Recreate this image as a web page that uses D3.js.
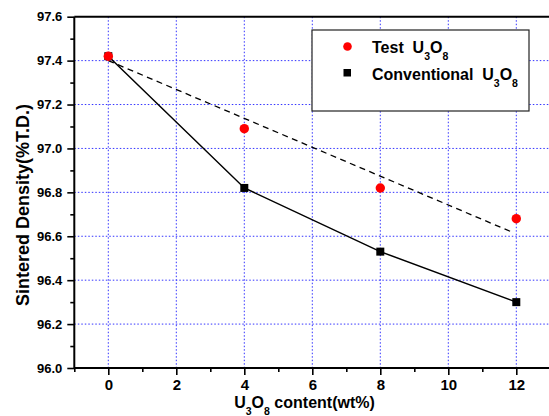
<!DOCTYPE html>
<html><head><meta charset="utf-8">
<script src="https://d3js.org/d3.v7.min.js"></script>
<style>body{margin:0;background:#fff}svg{display:block}text{font-family:"Liberation Sans",Arial,sans-serif;font-weight:bold}</style>
</head><body><svg id="c" width="549" height="416"></svg>
<script>
const xValues = [0, 4, 8, 12];
const testU3O8 = [97.42, 97.09, 96.82, 96.68];
const conventionalU3O8 = [97.42, 96.82, 96.53, 96.30];
const fitX = [0, 11.86];
const fitY = [97.40, 96.62];
const xTicks = [0, 2, 4, 6, 8, 10, 12];
const yTicks = [96.0, 96.2, 96.4, 96.6, 96.8, 97.0, 97.2, 97.4, 97.6];

const svg = d3.select("#c");
const L = 74.3, R = 550.3, T = 16.7, B = 368;
const x = d3.scaleLinear().domain([-1, 13]).range([L, R]);
const y = d3.scaleLinear().domain([96.0, 97.6]).range([B, T]);

// grid
const g = svg.append("g");
g.selectAll("line.gx").data(xTicks).join("line")
  .attr("x1", d => x(d)).attr("x2", d => x(d)).attr("y1", T).attr("y2", B)
  .attr("stroke", "#3333ff").attr("stroke-width", 1).attr("stroke-dasharray", "1.5,2");
g.selectAll("line.gy").data(yTicks.slice(1, -1)).join("line")
  .attr("y1", d => y(d)).attr("y2", d => y(d)).attr("x1", L).attr("x2", R)
  .attr("stroke", "#3333ff").attr("stroke-width", 1).attr("stroke-dasharray", "1.5,2");

// axes
const xAxis = svg.append("g").attr("transform", `translate(0,${B})`)
  .call(d3.axisBottom(x).tickValues(xTicks).tickSize(7).tickPadding(4).tickFormat(d3.format("d")));
const xMinor = svg.append("g").attr("transform", `translate(0,${B})`)
  .call(d3.axisBottom(x).tickValues([-1,1,3,5,7,9,11]).tickSize(4).tickFormat(""));
const yAxis = svg.append("g").attr("transform", `translate(${L},0)`)
  .call(d3.axisLeft(y).tickValues(yTicks).tickSize(7).tickPadding(5).tickFormat(d3.format(".1f")));
const yMinor = svg.append("g").attr("transform", `translate(${L},0)`)
  .call(d3.axisLeft(y).tickValues(d3.range(96.1, 97.6, 0.2)).tickSize(4).tickFormat(""));
[xAxis, xMinor, yAxis, yMinor].forEach(a => {
  a.select(".domain").attr("stroke", "#000").attr("stroke-width", 2);
  a.selectAll(".tick line").attr("stroke", "#000").attr("stroke-width", 1.6);
  a.selectAll("text").attr("fill", "#000").style("font-weight", "bold");
});
xAxis.selectAll("text").style("font-size", "15px");
yAxis.selectAll("text").style("font-size", "13px");
xMinor.select(".domain").remove(); yMinor.select(".domain").remove();
xAxis.select(".domain").attr("d", `M${L},0H${R}`);
yAxis.select(".domain").attr("d", `M0,${B}V${T}`);
svg.append("line").attr("x1", L).attr("x2", R).attr("y1", T).attr("y2", T).attr("stroke", "#000").attr("stroke-width", 2);

// lines
const line = d3.line().x(d => x(d[0])).y(d => y(d[1]));
svg.append("path").datum(fitX.map((v, i) => [v, fitY[i]]))
  .attr("d", line).attr("fill", "none").attr("stroke", "#000").attr("stroke-width", 1.3).attr("stroke-dasharray", "6,4.5");
svg.append("path").datum(xValues.map((v, i) => [v, conventionalU3O8[i]]))
  .attr("d", line).attr("fill", "none").attr("stroke", "#000").attr("stroke-width", 1.5);

// markers
svg.selectAll("rect.pt").data(xValues.map((v, i) => [v, conventionalU3O8[i]])).join("rect")
  .attr("x", d => x(d[0]) - 4).attr("y", d => y(d[1]) - 4).attr("width", 8).attr("height", 8).attr("fill", "#000");
svg.selectAll("circle.pt").data(xValues.map((v, i) => [v, testU3O8[i]])).join("circle")
  .attr("cx", d => x(d[0])).attr("cy", d => y(d[1])).attr("r", 4.7).attr("fill", "#ff0000");

// legend
svg.append("rect").attr("x", 312).attr("y", 30).attr("width", 217).attr("height", 81)
  .attr("fill", "#fff").attr("stroke", "#222").attr("stroke-width", 1.2);
svg.append("circle").attr("cx", 347.5).attr("cy", 46.5).attr("r", 4.3).attr("fill", "#ff0000");
svg.append("rect").attr("x", 343.5).attr("y", 69).attr("width", 7.5).attr("height", 7.5).attr("fill", "#000");
function u3o8(t, prefix, xx, yy, size, anchor) {
  const tx = t.append("text").attr("x", xx).attr("y", yy).style("font-size", size + "px").attr("fill", "#000")
    .attr("text-anchor", anchor || "start");
  tx.append("tspan").text(prefix + "U");
  tx.append("tspan").text("3").attr("dy", 7).style("font-size", "10.5px");
  tx.append("tspan").text("O").attr("dy", -7);
  tx.append("tspan").text("8").attr("dy", 7).style("font-size", "10.5px");
  return tx;
}
u3o8(svg, "Test\u00a0\u00a0", 372, 52.5, 16);
u3o8(svg, "Conventional\u00a0\u00a0", 372, 79.5, 16);

// axis titles
svg.append("text").attr("transform", `translate(28.5,205) rotate(-90)`)
  .attr("text-anchor", "middle").style("font-size", "18px").attr("fill", "#000").text("Sintered Density(%T.D.)");
const xt = u3o8(svg, "", 304.5, 407.5, 16, "middle");
xt.append("tspan").text(" content(wt%)").attr("dy", -7);
</script></body></html>
